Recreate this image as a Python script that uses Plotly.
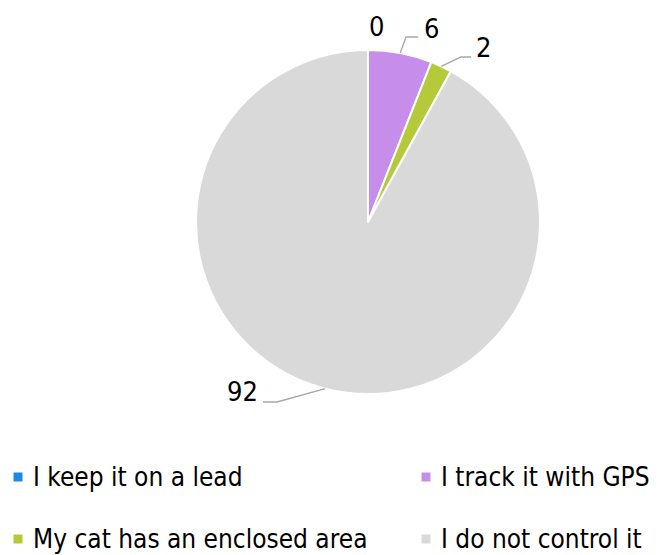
import math
import plotly.graph_objects as go

# ---- data ----
categories = ["I keep it on a lead", "I track it with GPS",
              "My cat has an enclosed area", "I do not control it"]
values = [0, 6, 2, 92]
colors = ["#1E88E5", "#C78DEB", "#B5C93A", "#D9D9D9"]

W, H = 658, 555
OFF = 8  # page body margin
FW, FH = W - OFF, H - OFF
FONT = "DejaVu Sans Condensed"

def px(x):
    return (x - OFF) / FW

def py(y):
    return 1 - (y - OFF) / FH

# pie geometry (window pixels)
cx, cy, R = 368, 222, 172

# label styling: label centre, elbow and end of leader line (window pixels)
label_style = {
    "I keep it on a lead": dict(pos=(376, 26), leader=None),
    "I track it with GPS": dict(pos=(431, 28), leader=[(406, 37), (418, 37)]),
    "My cat has an enclosed area": dict(pos=(483, 47), leader=[(461, 57), (471, 57)]),
    "I do not control it": dict(pos=(242, 391), leader=[(277, 402), (263, 402)]),
}

fig = go.Figure(go.Pie(
    labels=categories, values=values, sort=False, direction="clockwise",
    rotation=0, marker=dict(colors=colors, line=dict(color="white", width=2)),
    textinfo="none", hoverinfo="label+value", showlegend=False,
    domain=dict(x=[px(cx - R), px(cx + R)], y=[py(cy + R), py(cy - R)]),
))

shapes = []
annotations = []
total = sum(values)
cum = 0
for cat, v in zip(categories, values):
    mid = (cum + v / 2) / total * 2 * math.pi
    cum += v
    st = label_style[cat]
    annotations.append(dict(
        x=px(st["pos"][0]), y=py(st["pos"][1]), xref="paper", yref="paper",
        text=str(v), showarrow=False, xanchor="center", yanchor="middle",
        font=dict(family=FONT, size=27, color="black")))
    if st["leader"]:
        sx = cx + R * math.sin(mid)
        sy = cy - R * math.cos(mid)
        pts = [(sx, sy)] + st["leader"]
        path = "M " + " L ".join(f"{px(a):.5f},{py(b):.5f}" for a, b in pts)
        shapes.append(dict(type="path", path=path, xref="paper", yref="paper",
                           line=dict(color="#A6A6A6", width=1.3)))

# manual legend
legend_pos = [(18, 477), (426, 477), (18, 539), (426, 539)]
for cat, col, (lx, ly) in zip(categories, colors, legend_pos):
    s = 4.5
    shapes.append(dict(type="rect", xref="paper", yref="paper",
                       x0=px(lx - s), x1=px(lx + s), y0=py(ly + s), y1=py(ly - s),
                       fillcolor=col, line=dict(width=0)))
    annotations.append(dict(
        x=px(lx + 13), y=py(ly), xref="paper", yref="paper", text=cat,
        showarrow=False, xanchor="left", yanchor="middle",
        font=dict(family=FONT, size=26, color="black")))

fig.update_layout(
    width=FW, height=FH, margin=dict(l=0, r=0, t=0, b=0),
    paper_bgcolor="white", plot_bgcolor="white",
    shapes=shapes, annotations=annotations, showlegend=False,
)
fig.write_html("out.html")
